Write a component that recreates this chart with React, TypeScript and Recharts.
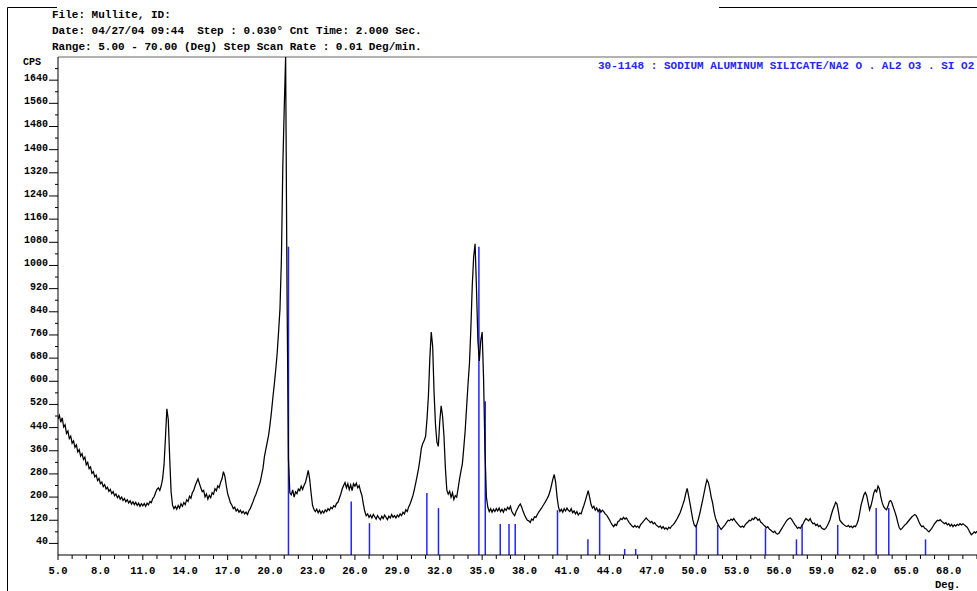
import { LineChart, Line, XAxis, YAxis, ReferenceLine } from "recharts";

// Scan header as printed by the diffractometer software
const headerLines = [
  "File: Mullite, ID:",
  "Date: 04/27/04 09:44  Step : 0.030° Cnt Time: 2.000 Sec.",
  "Range: 5.00 - 70.00 (Deg) Step Scan Rate : 0.01 Deg/min.",
];
const pdfCardLabel = "30-1148 : SODIUM ALUMINUM SILICATE/NA2 O . AL2 O3 . SI O2";

// Measured counts, sampled every 0.1 deg; one row per degree
const SCAN_STEP = 0.1;
const scan05 = [
  470, 482, 458, 474, 442, 450, 420, 428, 402, 410,
  386, 394, 372, 380, 356, 364, 342, 350, 330, 338,
  312, 320, 298, 304, 282, 288, 270, 276, 257, 264,
  246, 252, 236, 243, 228, 234, 220, 227, 212, 219,
  205, 211, 198, 205, 193, 200, 188, 195, 184, 191,
  180, 187, 176, 184, 174, 182, 171, 179, 168, 177,
  170, 178, 168, 179, 173, 185, 181, 195, 201, 215,
  227, 232, 223, 239, 264, 312, 405, 505, 468, 335,
  218, 172, 160, 168, 158, 171, 162, 177, 168, 181,
  174, 191, 185, 203, 196, 215, 223, 239, 251, 263,
];
const scan15 = [
  247, 232, 219, 223, 201, 211, 193, 206, 198, 215,
  210, 229, 222, 239, 233, 251, 263, 288, 272, 240,
  212, 196, 180, 172, 160, 165, 152, 158, 148, 155,
  145, 151, 142, 148, 140, 153, 160, 173, 185, 199,
  210, 224, 238, 252, 276, 300, 340, 365, 390, 415,
  452, 495, 545, 590, 640, 695, 770, 850, 1020, 1340,
  1540, 1720, 900, 330, 215, 208, 225, 200, 218, 212,
  228, 222, 238, 226, 240, 250, 270, 292, 262, 215,
  172, 158, 150, 158, 146, 155, 143, 152, 145, 156,
  150, 160, 154, 165, 160, 170, 166, 178, 182, 196,
];
const scan25 = [
  210, 228, 240, 250, 232, 246, 226, 242, 222, 246,
  238, 248, 232, 240, 220, 205, 175, 150, 136, 142,
  130, 138, 128, 140, 132, 124, 136, 128, 122, 134,
  126, 138, 130, 122, 134, 128, 140, 130, 136, 128,
  138, 132, 142, 136, 148, 142, 156, 150, 166, 176,
  190, 205, 225, 248, 272, 298, 330, 368, 385, 395,
  410, 470, 550, 680, 770, 720, 560, 450, 390, 375,
  460, 515, 480, 410, 300, 225, 210, 220, 200, 215,
  192, 205, 200, 230, 262, 290, 315, 370, 430, 510,
  590, 660, 780, 930, 1030, 1075, 920, 740, 670, 740,
];
const scan35 = [
  770, 610, 360, 200, 165, 150, 160, 148, 158, 150,
  160, 152, 162, 150, 158, 148, 160, 154, 165, 158,
  168, 150, 142, 136, 150, 160, 170, 176, 165, 150,
  138, 128, 120, 118, 112, 124, 120, 132, 130, 140,
  148, 155, 162, 170, 178, 186, 195, 205, 220, 240,
  262, 278, 250, 200, 165, 150, 158, 148, 160, 152,
  162, 154, 150, 160, 146, 152, 142, 150, 138, 145,
  142, 158, 172, 188, 205, 222, 200, 175, 162, 168,
  155, 162, 150, 158, 148, 155, 150, 142, 138, 130,
  122, 112, 104, 98, 106, 102, 115, 118, 126, 122,
];
const scan45 = [
  130, 124, 128, 120, 112, 106, 100, 96, 102, 96,
  100, 94, 104, 110, 116, 122, 128, 122, 118, 112,
  116, 108, 112, 104, 100, 96, 100, 92, 98, 90,
  94, 88, 96, 92, 100, 104, 110, 118, 126, 136,
  146, 160, 175, 190, 212, 230, 205, 178, 150, 122,
  104, 98, 108, 125, 145, 168, 190, 215, 240, 260,
  250, 228, 200, 180, 150, 128, 115, 104, 96, 88,
  94, 100, 106, 114, 120, 118, 124, 120, 126, 118,
  112, 106, 100, 96, 100, 96, 104, 110, 114, 120,
  118, 126, 122, 130, 128, 120, 124, 114, 110, 104,
];
const scan55 = [
  100, 94, 98, 90, 86, 82, 78, 82, 74, 72,
  76, 84, 92, 100, 108, 116, 122, 126, 128, 122,
  114, 106, 100, 92, 96, 92, 100, 108, 118, 126,
  122, 118, 126, 114, 108, 110, 102, 106, 98, 102,
  94, 90, 88, 92, 100, 110, 122, 140, 156, 168,
  182, 176, 150, 120, 114, 108, 104, 100, 98, 102,
  96, 100, 94, 100, 98, 106, 120, 145, 172, 190,
  208, 216, 205, 180, 156, 170, 190, 214, 225, 218,
  238, 228, 200, 180, 167, 160, 156, 168, 185, 188,
  178, 162, 148, 132, 112, 94, 88, 92, 98, 104,
];
const scan65 = [
  108, 114, 120, 126, 132, 136, 140, 136, 126, 114,
  104, 98, 100, 92, 90, 84, 80, 86, 92, 100,
  108, 114, 120, 118, 122, 116, 112, 108, 112, 104,
  108, 100, 106, 98, 104, 100, 106, 102, 108, 104,
  108, 104, 100, 96, 88, 78, 70, 74, 80, 76,
  82,
];

// Reference pattern 30-1148: line positions (deg) and heights (cps)
const stickAngles = [
  21.3, 25.74, 27.03, 31.09, 31.91, 34.77, 35.22, 36.28, 36.9, 37.34,
  40.33, 42.48, 43.31, 45.08, 45.86, 50.15, 51.66, 55.04, 57.23, 57.63,
  60.15, 62.87, 63.76, 66.36,
];
const stickCounts = [
  1065, 185, 110, 214, 162, 1065, 531, 107, 107, 107,
  155, 54, 158, 21, 21, 104, 104, 92, 54, 106,
  104, 162, 162, 54,
];

const xTicks = [
  5, 6, 7, 8, 9, 10, 11, 12, 13, 14, 15, 16, 17, 18, 19, 20, 21, 22, 23, 24,
  25, 26, 27, 28, 29, 30, 31, 32, 33, 34, 35, 36, 37, 38, 39, 40, 41, 42, 43, 44,
  45, 46, 47, 48, 49, 50, 51, 52, 53, 54, 55, 56, 57, 58, 59, 60, 61, 62, 63, 64,
  65, 66, 67, 68, 69, 70,
];
const xLabelled = [5, 8, 11, 14, 17, 20, 23, 26, 29, 32, 35, 38, 41, 44, 47, 50, 53, 56, 59, 62, 65, 68];
const yTicks = [
  40, 80, 120, 160, 200, 240, 280, 320, 360, 400, 440, 480, 520, 560, 600, 640,
  680, 720, 760, 800, 840, 880, 920, 960, 1000, 1040, 1080, 1120, 1160, 1200,
  1240, 1280, 1320, 1360, 1400, 1440, 1480, 1520, 1560, 1600, 1640, 1680,
];
const yLabelled = [
  40, 120, 200, 280, 360, 440, 520, 600, 680, 760, 840, 920, 1000, 1080, 1160,
  1240, 1320, 1400, 1480, 1560, 1640,
];
const X_DOMAIN: [number, number] = [5, 70];
const Y_MAX = 1720;

const scanBlocks: [number, number[]][] = [
  [5, scan05], [15, scan15], [25, scan25], [35, scan35],
  [45, scan45], [55, scan55], [65, scan65],
];
const scanData = scanBlocks.flatMap(([start, counts]) =>
  counts.map((cps, i) => ({
    angle: Math.round((start + i * SCAN_STEP) * 10) / 10,
    cps,
  }))
);

const W = 977;
const H = 591;
const PLOT_TOP = 57;
const AXIS_W = 58;
const AXIS_H = 36;

const MONO = "'Liberation Mono', 'DejaVu Sans Mono', monospace";
const STICK_BLUE = "#2424ff";

function AngleTick({ x, y, payload }: any) {
  const v = payload.value as number;
  const major = xLabelled.includes(v);
  return (
    <g>
      <line x1={x} x2={x} y1={y} y2={y + (major ? 5 : 4)} stroke="#000" />
      {major && (
        <text
          x={x}
          y={y + 19}
          textAnchor="middle"
          fontFamily={MONO}
          fontWeight="bold"
          fontSize={10.5}
          fill="#000"
        >
          {v.toFixed(1)}
        </text>
      )}
    </g>
  );
}

function CpsTick({ x, y, payload }: any) {
  const v = payload.value as number;
  if (!yLabelled.includes(v)) {
    return <line x1={x - 3} x2={x} y1={y} y2={y} stroke="#000" />;
  }
  return (
    <g>
      <text
        x={x - 10}
        y={y + 1}
        textAnchor="end"
        fontFamily={MONO}
        fontWeight="bold"
        fontSize={10}
        fill="#000"
      >
        {v}
      </text>
      <line x1={x - 9} x2={x} y1={y} y2={y} stroke="#000" />
    </g>
  );
}

// Axes, frame and card lines; the measured trace is drawn by a second chart on top
function CardChart() {
  return (
    <LineChart
      width={W}
      height={H}
      data={scanData}
      margin={{ top: PLOT_TOP, right: 0, bottom: 0, left: 0 }}
    >
      <XAxis
        dataKey="angle"
        type="number"
        domain={X_DOMAIN}
        ticks={xTicks}
        interval={0}
        height={AXIS_H}
        tickSize={0}
        tickMargin={0}
        tickLine={false}
        axisLine={{ stroke: "#000" }}
        tick={(p: any) => <AngleTick {...p} />}
        allowDataOverflow
      />
      <YAxis
        type="number"
        domain={[0, Y_MAX]}
        ticks={yTicks}
        interval={0}
        width={AXIS_W}
        tickSize={0}
        tickMargin={0}
        tickLine={false}
        axisLine={{ stroke: "#000" }}
        tick={(p: any) => <CpsTick {...p} />}
        allowDataOverflow
      />
      <ReferenceLine y={Y_MAX} stroke="#666" />
      {stickAngles.map((a, i) => (
        <ReferenceLine
          key={a}
          segment={[
            { x: a, y: 0 },
            { x: a, y: stickCounts[i] },
          ]}
          stroke={STICK_BLUE}
          strokeWidth={1.5}
        />
      ))}
    </LineChart>
  );
}

function ScanChart() {
  return (
    <LineChart
      width={W}
      height={H}
      data={scanData}
      margin={{ top: PLOT_TOP, right: 0, bottom: AXIS_H, left: AXIS_W }}
    >
      <XAxis dataKey="angle" type="number" domain={X_DOMAIN} hide allowDataOverflow />
      <YAxis type="number" domain={[0, Y_MAX]} hide allowDataOverflow />
      <Line
        dataKey="cps"
        type="linear"
        stroke="#000"
        strokeWidth={1.25}
        dot={false}
        isAnimationActive={false}
      />
    </LineChart>
  );
}

export default function App() {
  return (
    <div style={{ position: "relative", width: W, height: H, background: "#fff" }}>
      <style>{"body{margin:0}"}</style>
      <CardChart />
      <div style={{ position: "absolute", left: 0, top: 0 }}>
        <ScanChart />
      </div>

      <svg
        width={W}
        height={H}
        style={{ position: "absolute", left: 0, top: 0, pointerEvents: "none" }}
      >
        <polyline points="57,7.5 7.5,7.5 7.5,591" fill="none" stroke="#000" />
        <line x1={719} x2={W} y1={7.5} y2={7.5} stroke="#000" />
        <g fontFamily={MONO} fontWeight="bold" fontSize={11} fill="#000">
          {headerLines.map((t, i) => (
            <text key={i} x={52} y={18 + i * 16} xmlSpace="preserve" style={{ whiteSpace: "pre" }}>
              {t}
            </text>
          ))}
          <text x={23} y={65} fontSize={10}>CPS</text>
          <text x={935} y={588} fontSize={10.5}>Deg.</text>
          <text x={598} y={69} fill={STICK_BLUE}>{pdfCardLabel}</text>
        </g>
      </svg>
    </div>
  );
}
